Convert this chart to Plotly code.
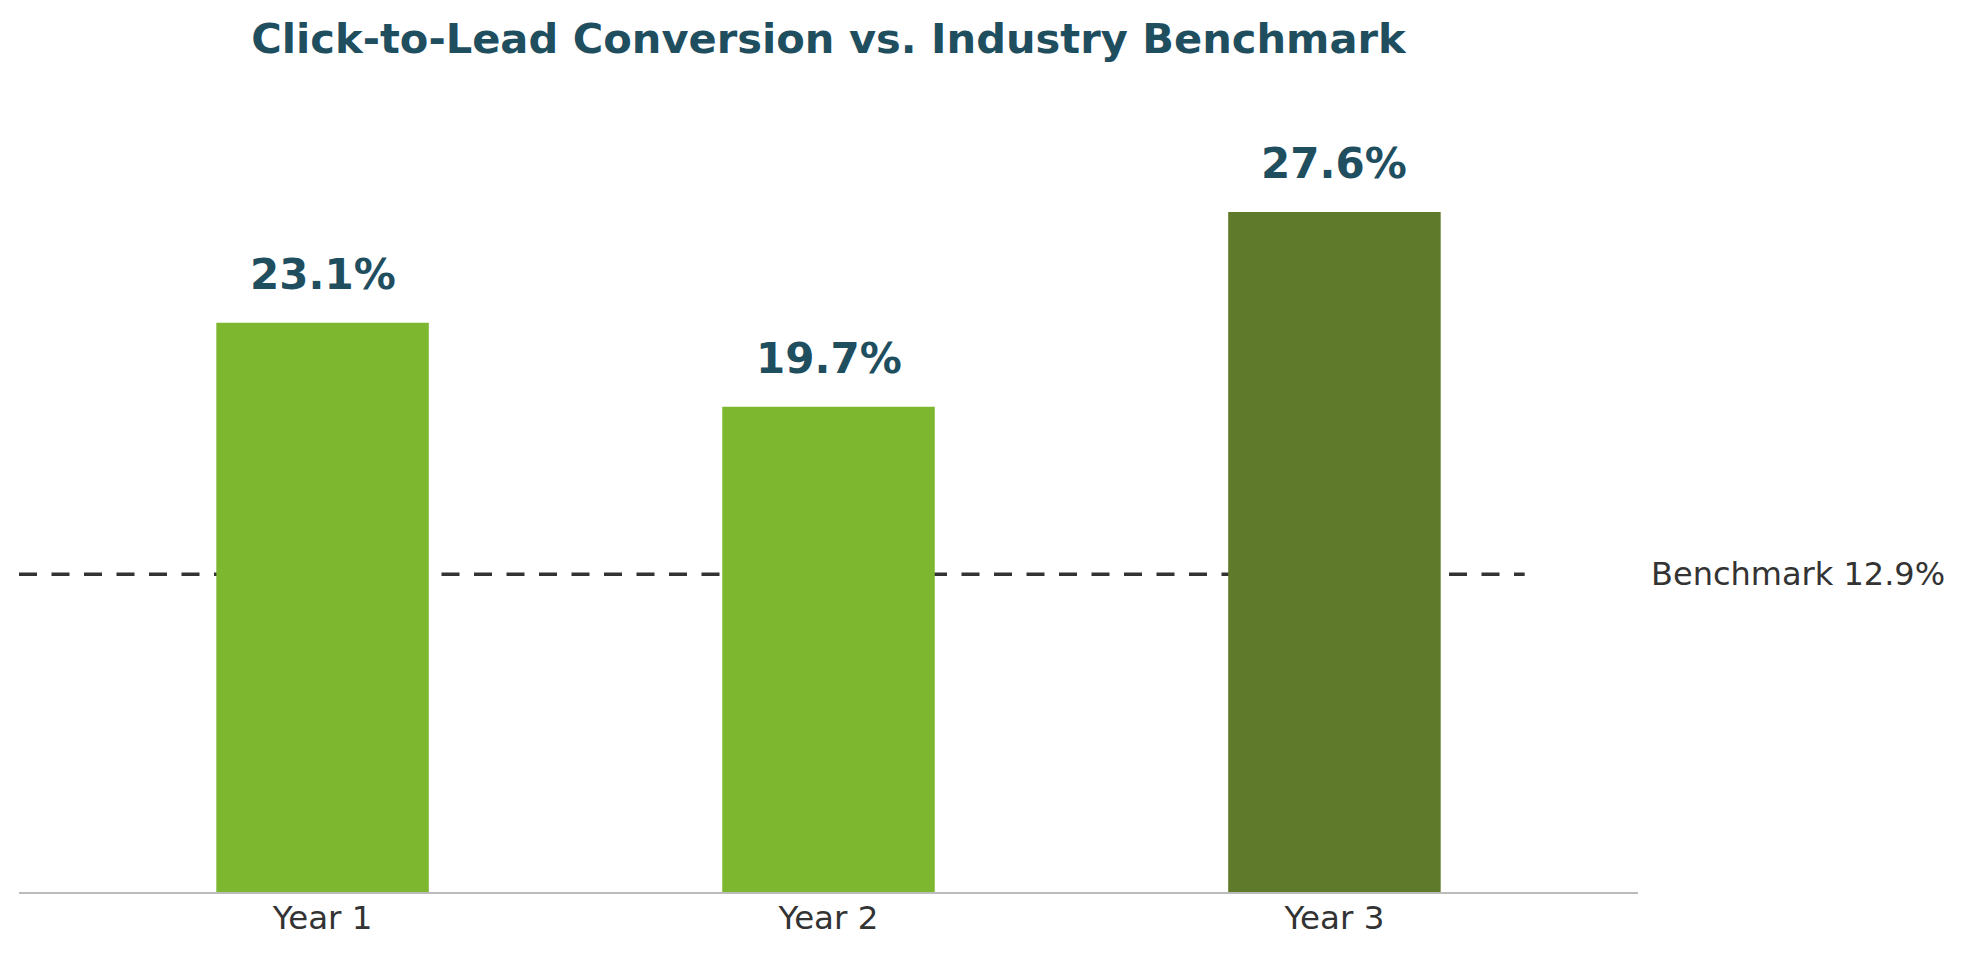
import plotly.graph_objects as go

categories = ["Year 1", "Year 2", "Year 3"]
values = [23.1, 19.7, 27.6]
value_labels = ["23.1%", "19.7%", "27.6%"]
bar_colors = ["#7DB730", "#7DB730", "#5E7A2A"]
benchmark = 12.9
benchmark_label = "Benchmark 12.9%"
title_text = "Click-to-Lead Conversion vs. Industry Benchmark"

TEXT_DARK = "#1F4E5F"
FONT = "DejaVu Sans"

fig = go.Figure()
fig.add_trace(go.Bar(
    x=categories, y=values, width=0.42,
    marker=dict(color=bar_colors, line=dict(width=0)),
    hoverinfo="skip",
))

fig.add_shape(type="line", xref="paper", x0=0, x1=0.93, yref="y",
              y0=benchmark, y1=benchmark, layer="below",
              line=dict(color="#333333", width=3.5, dash="18px,14.5px"))

for c, v, t in zip(categories, values, value_labels):
    fig.add_annotation(x=c, y=v, text="<b>" + t + "</b>", showarrow=False,
                       yanchor="bottom", yshift=22,
                       font=dict(family=FONT, size=42, color=TEXT_DARK),
                       xref="x", yref="y")

fig.add_annotation(xref="paper", x=1.007, xanchor="left", yref="y", y=benchmark,
                   yanchor="middle", text=benchmark_label, showarrow=False,
                   font=dict(family=FONT, size=32, color="#333333"))

fig.update_layout(
    width=1964, height=956,
    margin=dict(l=19, r=326, t=110, b=64),
    paper_bgcolor="white", plot_bgcolor="white",
    showlegend=False,
    title=dict(text="<b>" + title_text + "</b>", x=(19 + (1964 - 326)) / 2 / 1964,
               xanchor="center", yref="container", y=1 - 24 / 956, yanchor="top",
               font=dict(family=FONT, size=41.6, color=TEXT_DARK)),
    xaxis=dict(range=[-0.6, 2.6], showgrid=False, zeroline=False,
               showline=True, linecolor="#BBBBBB", linewidth=2,
               ticks="", ticklabelstandoff=-4,
               tickfont=dict(family=FONT, size=32.5, color="#333333")),
    yaxis=dict(range=[0, 31.74], visible=False, showgrid=False, zeroline=False),
)

fig.write_html("out.html")
